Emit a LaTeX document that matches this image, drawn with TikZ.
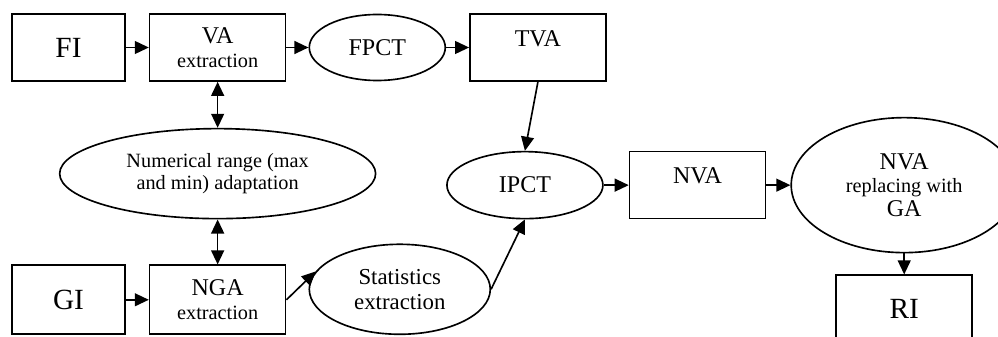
\documentclass[tikz,border=0pt]{standalone}
\usepackage{fontspec}
\setmainfont{Liberation Serif}
\usetikzlibrary{shapes.geometric, arrows.meta, positioning}

\newcommand{\bigtxt}{\fontsize{25}{28}\selectfont}
\newcommand{\midtxt}{\fontsize{20.5}{20}\selectfont}
\newcommand{\smalltxt}{\fontsize{17.3}{19}\selectfont}
\newcommand{\stattxt}{\fontsize{19.5}{21}\selectfont}

\begin{document}
\begin{tikzpicture}[
    node distance=0.69cm and 0.69cm,
    blk/.style={rectangle, draw=black, line width=1.4pt, minimum width=4.08cm, minimum height=2.01cm, inner sep=0pt, align=center, font=\midtxt},
    topblk/.style={blk, text depth=16pt},
    oval/.style={ellipse, draw=black, line width=1.4pt, inner sep=0pt, align=center, font=\midtxt},
    >={Triangle[length=12pt,width=11pt]}, line width=1.4pt
]
    \useasboundingbox (0,0) rectangle (29.94,-10.11);

    % upper row
    \node[blk, minimum width=3.39cm, font=\bigtxt] (fi) at (2.055,-1.425) {FI};
    \node[blk, right=0.69cm of fi] (va) {VA\\{\smalltxt extraction}};
    \node[oval, right=0.66cm of va, minimum width=4.08cm, minimum height=1.98cm] (fpct) {FPCT};
    \node[topblk, right=0.69cm of fpct] (tva) {TVA};

    % middle
    \node[oval, below=1.38cm of va, minimum width=9.48cm, minimum height=2.7cm, font=\smalltxt] (range) {Numerical range (max\\and min) adaptation};
    \node[oval, below=2.07cm of tva, xshift=-0.39cm, minimum width=4.68cm, minimum height=2.01cm] (ipct) {IPCT};
    \node[topblk, right=0.75cm of ipct] (nva) {NVA};
    \node[oval, right=0.72cm of nva, minimum width=6.78cm, minimum height=4.05cm] (replace) {NVA\\{\smalltxt replacing with}\\GA};
    \node[blk, below=0.63cm of replace, font=\bigtxt] (ri) {RI};

    % lower row
    \node[blk, below=1.35cm of range, minimum height=2.07cm] (nga) {NGA\\{\smalltxt extraction}};
    \node[blk, left=0.69cm of nga, minimum width=3.39cm, minimum height=2.07cm, font=\bigtxt] (gi) {GI};
    \node[oval, right=0.66cm of nga, yshift=0.315cm, minimum width=5.43cm, minimum height=2.7cm, font=\stattxt] (stats) {Statistics\\extraction};

    % edges
    \draw[->] (fi) -- (va);
    \draw[->] (va) -- (fpct);
    \draw[->] (fpct) -- (tva);
    \draw[<->] (va) -- (range);
    \draw[<->] (range) -- (nga);
    \draw[->] (gi) -- (nga);
    \draw[->] (nga.east) -- (stats.168);
    \draw[->] (stats.east) -- (ipct.south);
    \draw[->] (tva.south) -- (ipct.north);
    \draw[->] (ipct) -- (nva);
    \draw[->] (nva) -- (replace);
    \draw[->] (replace) -- (ri);
\end{tikzpicture}
\end{document}
